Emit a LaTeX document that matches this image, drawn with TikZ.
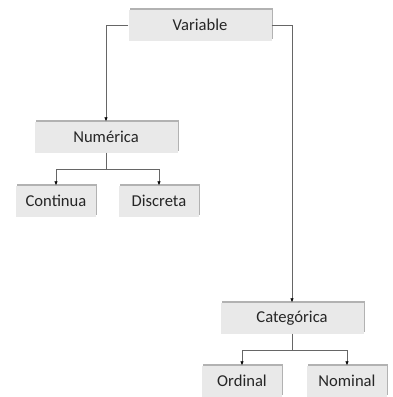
\documentclass[tikz,border=0pt]{standalone}
\usepackage{fontspec}
\setmainfont{Carlito}
\usetikzlibrary{positioning, arrows.meta, shadows}

\begin{document}
\begin{tikzpicture}
[
    x=1pt, y=-1pt, font=\fontsize{16.6}{19}\selectfont,
    % Boxes are named B-name, branch points are named J-name
    % Positions are in pt, counted from the top left corner
]

%=================================== Start ===================================
\tikzstyle{box}  = [
    fill=gray!17, minimum height=31pt, inner sep=0pt, text=black!85,
    general shadow={fill=gray!60, shadow xshift=1.4pt, shadow yshift=1.4pt}
]
\tikzstyle{wide} = [box, minimum width=143pt]
\tikzstyle{leaf} = [box, minimum width=80pt]
\tikzstyle{line} = [draw=gray!80!black, line width=0.6pt]
\tikzstyle{arr}  = [line, -{Latex[length=4pt, width=3.6pt, black]}]

\useasboundingbox (0,0) rectangle (392,397);

{
    % Draw the top level boxes
    \node[wide] (B-var) at (200,25)  {Variable};
    \node[wide] (B-num) at (106,137) {Numérica};
    \node[wide] (B-cat) at (292,318) {Categórica};

    % Draw the leaves
    \foreach \n / \x / \y / \t in {con/56/201/Continua, dis/159/201/Discreta,
                                   ord/242/381/Ordinal, nom/347/381/Nominal}
        \node[leaf] (B-\n) at (\x,\y) {\t};

    % Branch points below the middle boxes
    \coordinate (J-num) at (106,169);
    \coordinate (J-cat) at (292,350);

    % Connect nodes
    \path[arr] (B-var.west) -| (B-num.north);
    \path[arr] (B-var.east) -| (B-cat.north);
    \path[line] (B-num.south) -- (J-num);
    \path[line] (B-cat.south) -- (J-cat);
    \foreach \from / \to in {num/con, num/dis, cat/ord, cat/nom}
        \path[arr] (J-\from) -| (B-\to.north);
}
%==================================== END ====================================

\end{tikzpicture}
\end{document}
